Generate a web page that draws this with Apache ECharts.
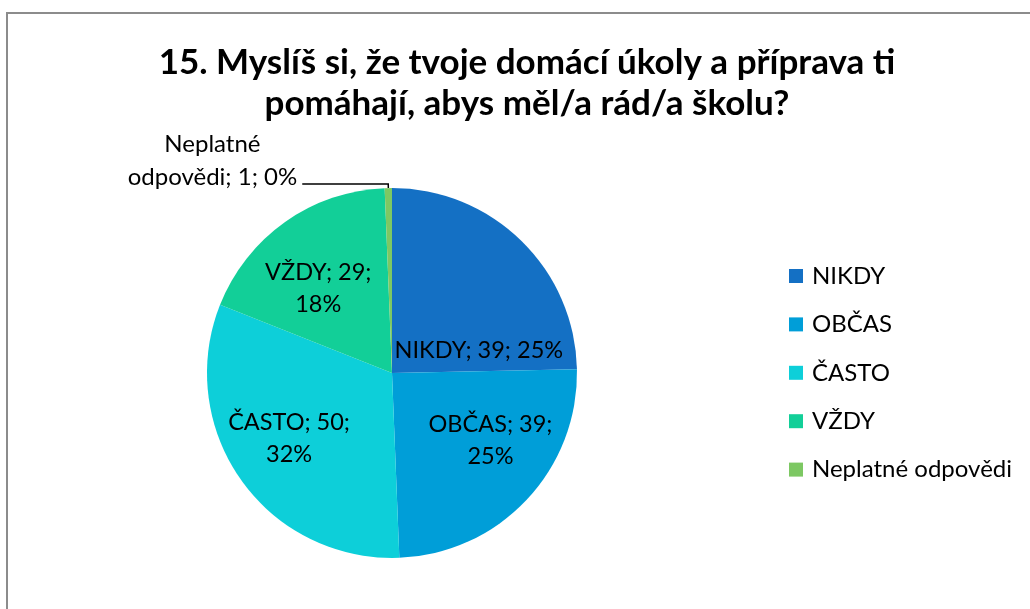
<!DOCTYPE html>
<html>
<head>
<meta charset="utf-8">
<script src="https://cdn.jsdelivr.net/npm/echarts@6/dist/echarts.min.js"></script>
<style>
  html, body { margin: 0; padding: 0; background: #fff; overflow: hidden; }
  #chart { position: absolute; left: 0; top: 0; width: 1030px; height: 609px; }
  #frame { position: absolute; left: 6px; top: 12px; width: 1100px; height: 700px;
           border-left: 2px solid #8c8c8c; border-top: 2px solid #8c8c8c; pointer-events: none; }
</style>
</head>
<body>
<div id="chart"></div>
<div id="frame"></div>
<script>
// ---- data ----
const titleLines = ['15. Myslíš si, že tvoje domácí úkoly a příprava ti', 'pomáhají, abys měl/a rád/a školu?'];
const categories = ['NIKDY', 'OBČAS', 'ČASTO', 'VŽDY', 'Neplatné odpovědi'];
const values = [39, 39, 50, 29, 1];
const percentLabels = ['25%', '25%', '32%', '18%', '0%'];

// ---- styling ----
const colors = ['#1470C4', '#009ED8', '#0DCFD9', '#12CF98', '#7DC863'];
const FONT = 'Lato';
const labelSize = 23.5;
// label text layout (where Excel wrapped the text)
const labelWraps = [
  (n, v, p) => n + '; ' + v + '; ' + p,
  (n, v, p) => n + '; ' + v + ';\n' + p,
  (n, v, p) => n + '; ' + v + ';\n' + p,
  (n, v, p) => n + '; ' + v + ';\n' + p,
  (n, v, p) => '{c|' + n.split(' ')[0] + '}\n{c|' + n.split(' ')[1] + '; ' + v + '; ' + p + '}'
];
// nudges of the inside labels from their default place
const labelNudges = [[20, 46], [29, 1.5], [-25, 10.5], [-18.5, -7], null];

const chart = echarts.init(document.getElementById('chart'), null, { renderer: 'canvas' });

const seriesData = categories.map((name, i) => {
  const item = {
    name: name,
    value: values[i],
    itemStyle: { color: colors[i] },
    label: {
      formatter: () => labelWraps[i](name, values[i], percentLabels[i])
    }
  };
  if (i === 4) {
    item.label.position = 'outside';
    item.label.padding = [0, 0, 46, 0];
    item.label.rich = { c: { align: 'center', fontFamily: FONT, fontSize: 24, color: '#000', lineHeight: 33 } };
    item.labelLine = { show: true, length: 4, length2: 86, lineStyle: { color: '#000', width: 1.5 } };
  }
  return item;
});

chart.setOption({
  backgroundColor: '#fff',
  animation: false,
  title: {
    text: titleLines.join('\n'),
    left: 522,
    textAlign: 'center',
    top: 37,
    textStyle: { fontFamily: FONT, fontWeight: 'bold', fontSize: 35, color: '#000', lineHeight: 41 }
  },
  legend: {
    orient: 'vertical',
    left: 784,
    top: 258,
    icon: 'rect',
    itemWidth: 14,
    itemHeight: 14,
    itemGap: 22.4,
    data: categories,
    textStyle: { fontFamily: FONT, fontSize: 24, color: '#000', lineHeight: 26, padding: [0, 0, 0, 4] }
  },
  series: [{
    type: 'pie',
    center: [392, 373],
    radius: 185,
    startAngle: 90,
    clockwise: true,
    avoidLabelOverlap: false,
    data: seriesData,
    label: {
      show: true,
      position: 'inside',
      fontFamily: FONT,
      fontSize: labelSize,
      color: '#000',
      lineHeight: 32
    },
    labelLine: { show: false },
    labelLayout: (params) => {
      const n = labelNudges[params.dataIndex];
      return n ? { dx: n[0], dy: n[1] } : {};
    },
    emphasis: { disabled: true }
  }]
});
</script>
</body>
</html>
